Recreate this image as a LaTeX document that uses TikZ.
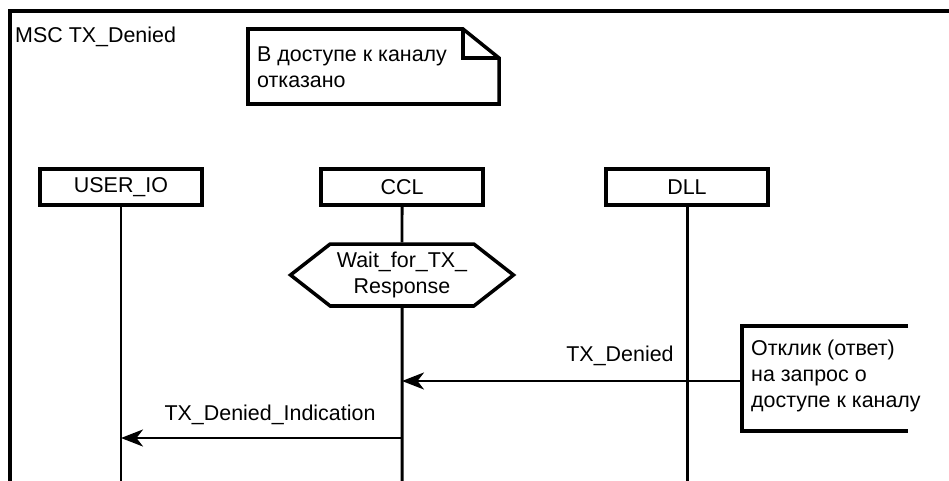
\documentclass[tikz,border=0pt]{standalone}
\usepackage{fontspec}
\setmainfont{Liberation Sans}
\usetikzlibrary{arrows.meta,shapes.symbols}

\tikzset{
  txt/.style={font=\fontsize{12.2}{14.7}\selectfont},
  inst/.style={draw, line width=2pt, minimum width=3.24cm, minimum height=0.72cm, inner sep=0pt},
  cond/.style={draw, line width=2pt, shape=signal, signal to=east and west,
    signal pointer angle=76, minimum width=4.46cm, minimum height=1.24cm,
    inner sep=0pt, align=center},
  life/.style={line width=1.7pt},
  msg/.style={line width=1.5pt, -{Stealth[length=4.4mm,width=3.4mm,inset=1.3mm]}},
  thick box/.style={line width=2pt}
}

\begin{document}
\begin{tikzpicture}[x=0.02cm, y=-0.02cm, every node/.style={txt}]
  \clip (0,0) rectangle (949,480);

  % frame and title
  \draw[line width=2.6pt] (960,11) -- (10,11) -- (10,490);
  \node[anchor=west] (title) at (9,37) {MSC TX\_Denied};

  % note with folded corner
  \draw[thick box] (248,29) -- (463,29) -- (499,58) -- (499,104) -- (248,104) -- cycle;
  \draw[thick box] (463,29) -- (463,58) -- (499,58);
  \node[anchor=west, align=left] (note) at (251,67) {В доступе к каналу\\отказано};

  % instances
  \node[inst] (userio) at (121,187) {USER\_IO};
  \node[inst] (ccl)    at (402,187) {CCL};
  \node[inst] (dll)    at (687,187) {DLL};
  \node[cond] (wait)   at (402,275) {Wait\_for\_TX\_\\Response};

  \coordinate (userioend) at (121,490);
  \coordinate (cclend)    at (402,490);
  \coordinate (dllend)    at (687,490);

  \draw[life] (userio) -- (userioend);
  \draw[life] (ccl) -- (wait);
  \draw[life] (wait) -- (cclend);
  \draw[life] (dll) -- (dllend);

  % comment
  \coordinate (cmtop) at (908,326);
  \coordinate (cmbot) at (908,431);
  \draw[thick box] (cmtop) -- (742,326) -- (742,431) -- (cmbot);
  \node[anchor=west, align=left] (cmtext) at (745,376)
    {Отклик (ответ)\\на запрос о\\доступе к каналу};

  % messages
  \coordinate (cmin)   at (742,381);
  \coordinate (cclin)  at (402,381);
  \coordinate (cclout) at (402,438);
  \coordinate (ioin)   at (121,438);
  \draw[msg] (cmin) -- (cclin);
  \node (denied) at (620,356) {TX\_Denied};
  \draw[msg] (cclout) -- (ioin);
  \node (indication) at (270,415) {TX\_Denied\_Indication};
\end{tikzpicture}
\end{document}
